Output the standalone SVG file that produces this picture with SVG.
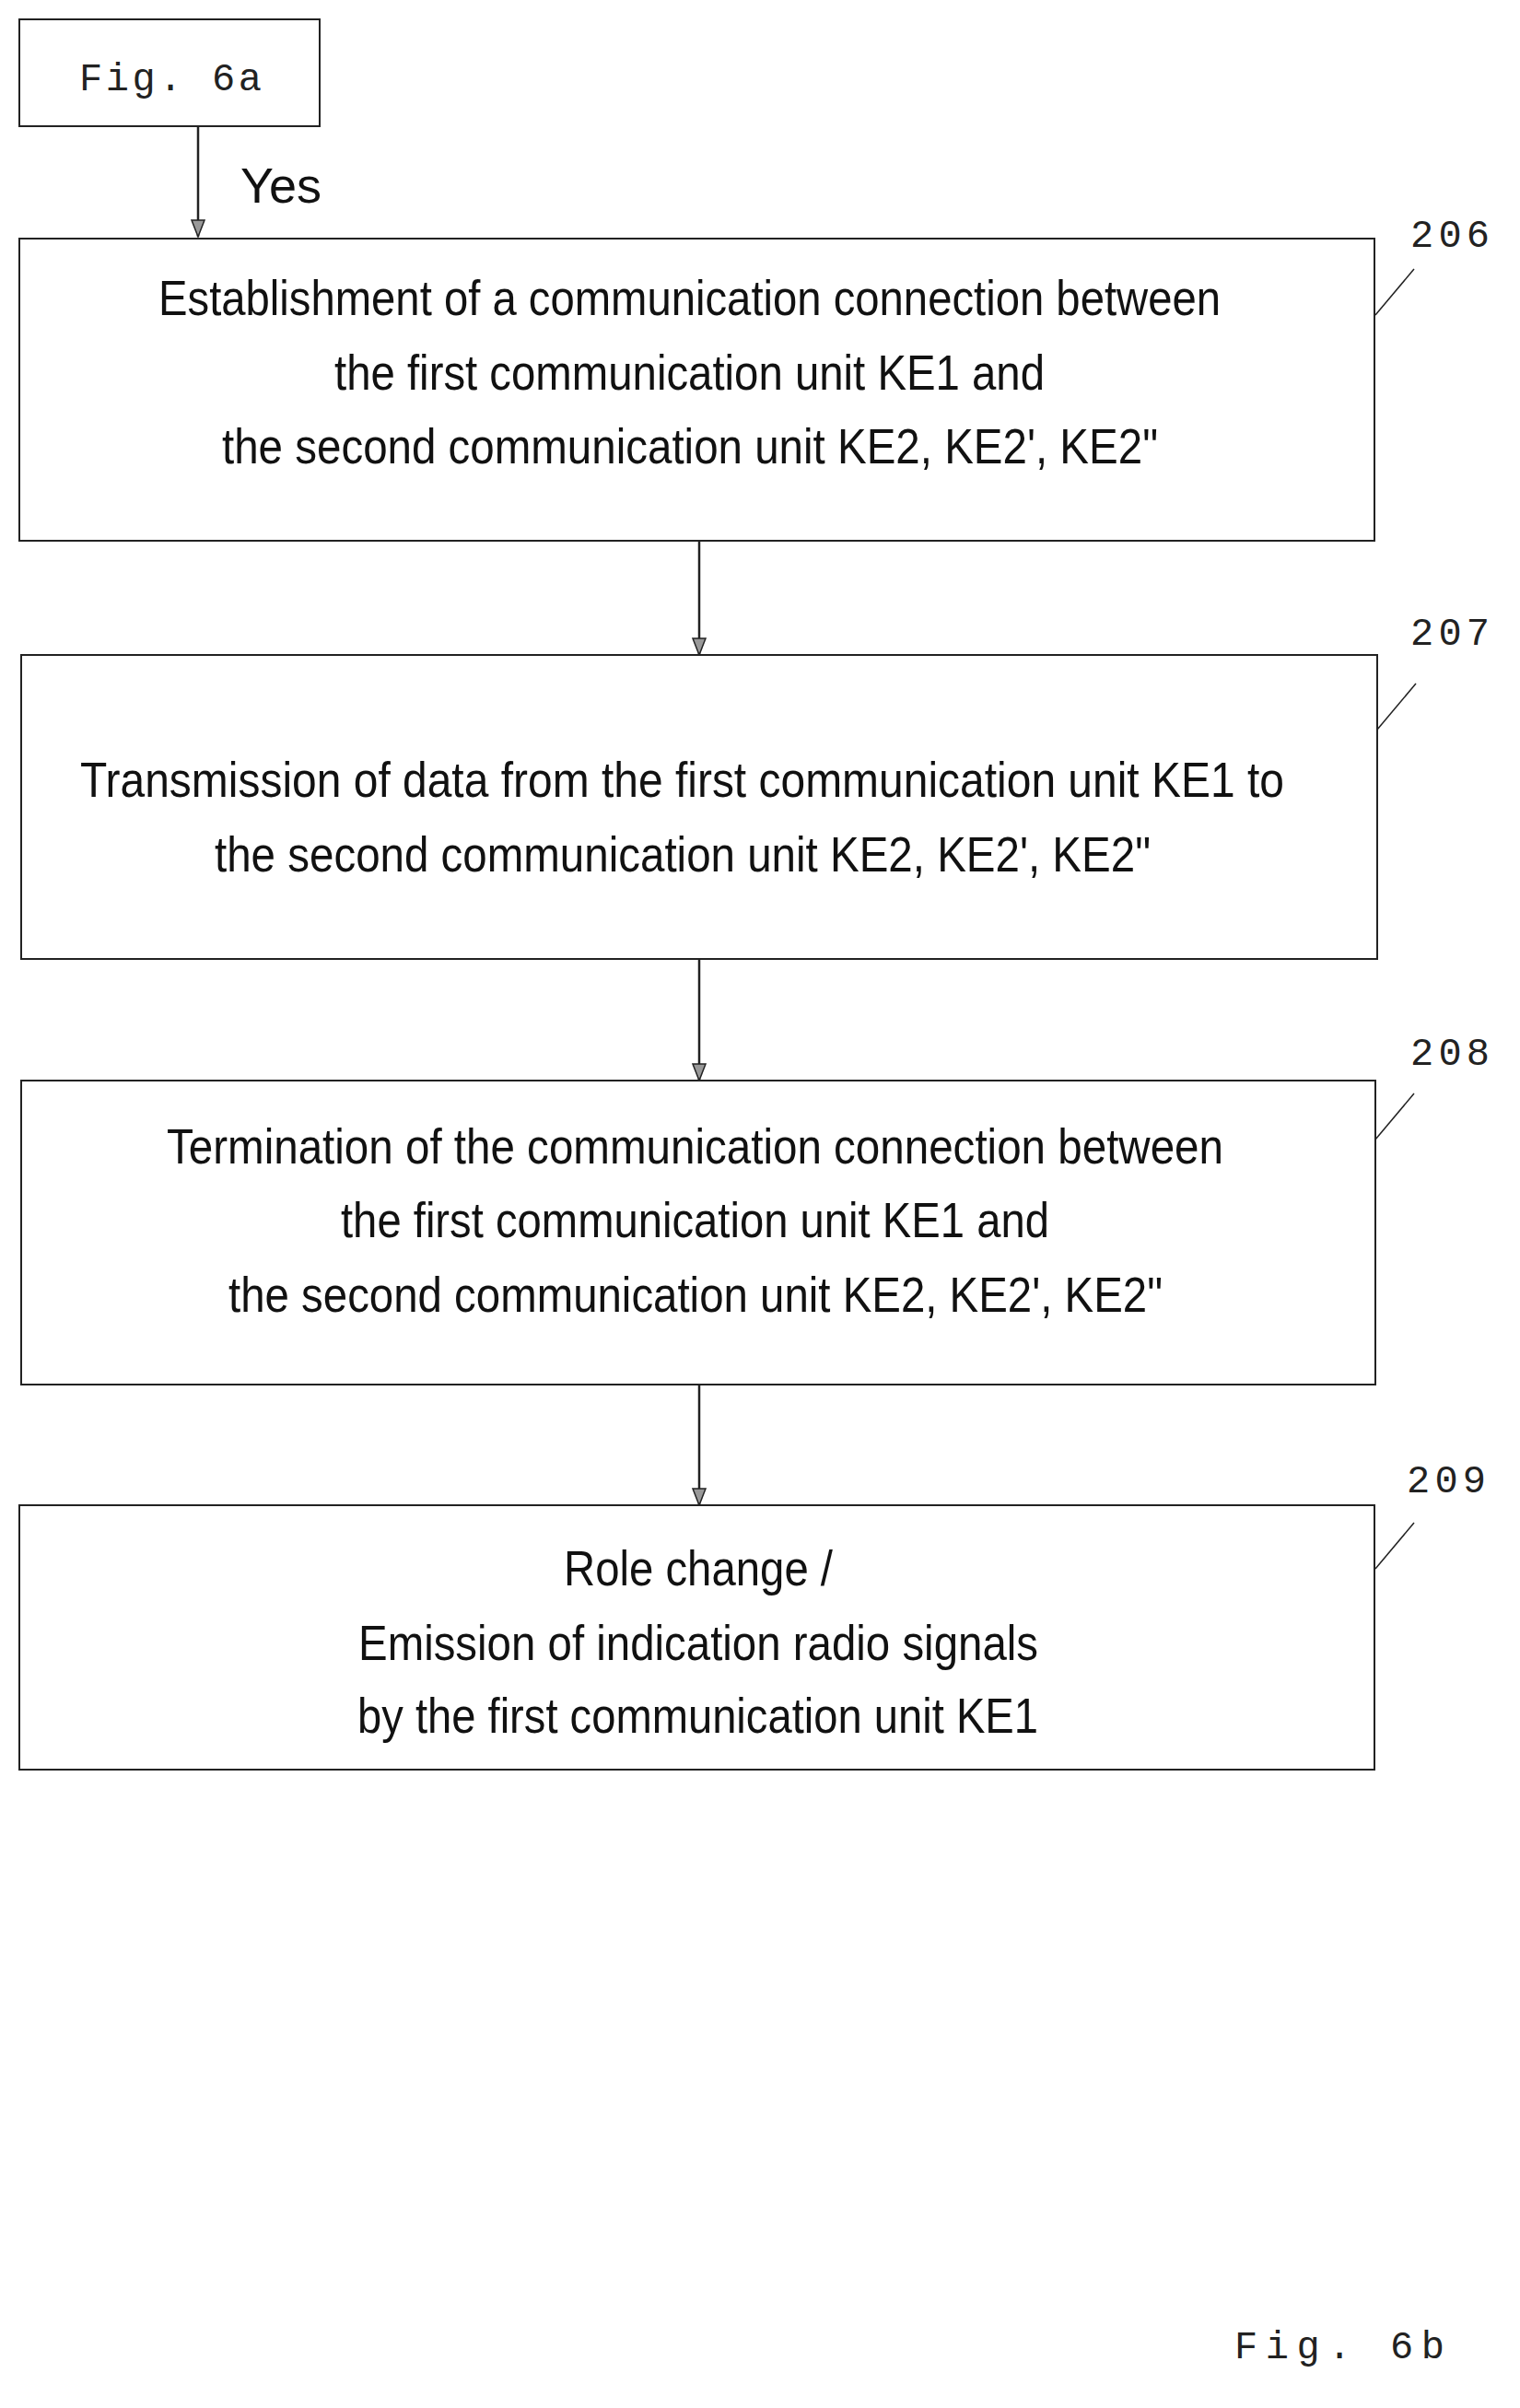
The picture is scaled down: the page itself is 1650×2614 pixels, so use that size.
<svg xmlns="http://www.w3.org/2000/svg" width="1650" height="2614" viewBox="0 0 1650 2614">
<style>
.b{fill:#fff;stroke:#222;stroke-width:2}
.t{font-family:"Liberation Sans",Arial,sans-serif;font-size:54px;fill:#111}
.m{font-family:"Liberation Mono","Courier New",monospace;font-size:42px;fill:#222}
.c{stroke:#222;stroke-width:2.5;fill:none;marker-end:url(#a)}
.s{stroke:#222;stroke-width:1.5}
</style>
<defs><marker id="a" markerWidth="20" markerHeight="16" refX="19" refY="8" orient="auto" markerUnits="userSpaceOnUse" viewBox="0 0 20 16"><path d="M1,1 L19,8 L1,15 Z" fill="#999" stroke="#222" stroke-width="1.5"/></marker></defs>
<g id="connectors">
<line class="c" x1="215" y1="137" x2="215" y2="257"/>
<line class="c" x1="759" y1="587" x2="759" y2="711"/>
<line class="c" x1="759" y1="1041" x2="759" y2="1173"/>
<line class="c" x1="759" y1="1503" x2="759" y2="1634"/>
</g>
<text class="t" x="261" y="220">Yes</text>
<g id="fig6a"><rect class="b" x="21" y="21" width="326" height="116"/><text class="m" x="86" y="98" textLength="198">Fig. 6a</text></g>
<g id="n206"><rect class="b" x="21" y="259" width="1471" height="328"/>
<text class="t" x="172" y="342" textLength="1153" lengthAdjust="spacingAndGlyphs">Establishment of a communication connection between</text>
<text class="t" x="363" y="423" textLength="771" lengthAdjust="spacingAndGlyphs">the first communication unit KE1 and</text>
<text class="t" x="241" y="503" textLength="1016" lengthAdjust="spacingAndGlyphs">the second communication unit KE2, KE2', KE2"</text>
<line class="s" x1="1493" y1="342" x2="1535" y2="292"/><text class="m" x="1531" y="268" textLength="86">206</text></g>
<g id="n207"><rect class="b" x="23" y="711" width="1472" height="330"/>
<text class="t" x="87" y="865" textLength="1307" lengthAdjust="spacingAndGlyphs">Transmission of data from the first communication unit KE1  to</text>
<text class="t" x="233" y="946" textLength="1016" lengthAdjust="spacingAndGlyphs">the second communication unit KE2, KE2', KE2"</text>
<line class="s" x1="1495" y1="792" x2="1537" y2="742"/><text class="m" x="1531" y="700" textLength="86">207</text></g>
<g id="n208"><rect class="b" x="23" y="1173" width="1470" height="330"/>
<text class="t" x="181" y="1263" textLength="1147" lengthAdjust="spacingAndGlyphs">Termination of the communication connection between</text>
<text class="t" x="370" y="1343" textLength="769" lengthAdjust="spacingAndGlyphs">the first communication unit KE1 and</text>
<text class="t" x="248" y="1424" textLength="1014" lengthAdjust="spacingAndGlyphs">the second communication unit KE2, KE2', KE2"</text>
<line class="s" x1="1493" y1="1237" x2="1535" y2="1187"/><text class="m" x="1531" y="1156" textLength="86">208</text></g>
<g id="n209"><rect class="b" x="21" y="1634" width="1471" height="287"/>
<text class="t" x="612" y="1721" textLength="292" lengthAdjust="spacingAndGlyphs">Role change /</text>
<text class="t" x="389" y="1802" textLength="738" lengthAdjust="spacingAndGlyphs">Emission of indication radio signals</text>
<text class="t" x="388" y="1881" textLength="739" lengthAdjust="spacingAndGlyphs">by the first communication unit KE1</text>
<line class="s" x1="1493" y1="1703" x2="1535" y2="1653"/><text class="m" x="1527" y="1620" textLength="86">209</text></g>
<text class="m" x="1340" y="2560" textLength="228">Fig. 6b</text>
</svg>
